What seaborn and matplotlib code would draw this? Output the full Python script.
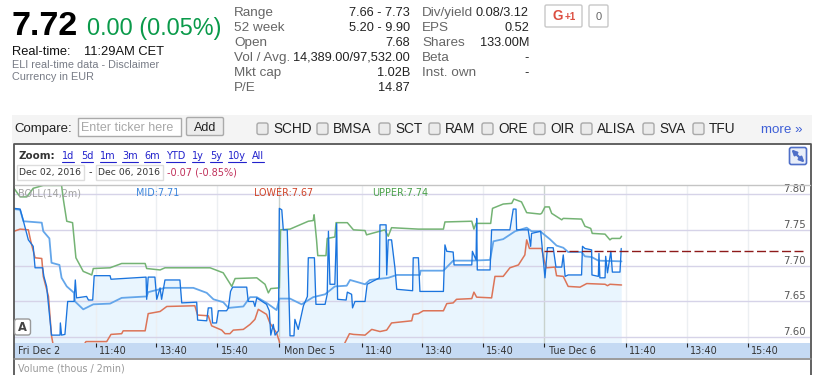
import matplotlib
matplotlib.use("Agg")
import matplotlib.pyplot as plt
import seaborn as sns
from matplotlib.patches import FancyBboxPatch, Rectangle

# Time = trading hours since Friday's open, price in EUR
upper_time = [0, .20, .42, .63, .96, 1.56, 1.62, 1.73, 1.92, 2.03, 2.27, 2.55, 2.60, 3.15, 3.53, 4.30, 4.35, 4.79, 4.95, 5.99, 6.43, 6.86, 7.14, 7.25, 7.96, 8.23, 8.34, 8.42, 8.70, 8.74, 9.05, 9.65, 9.81, 9.84, 9.92, 9.96, 10.23, 10.27, 10.52, 10.56, 10.93, 11.13, 11.51, 11.56, 12.16, 12.27, 12.38, 13.26, 14.08, 14.13, 15.01, 15.08, 15.15, 15.63, 15.69, 16.04, 16.32, 16.39, 16.64, 16.81, 17.25, 17.30, 17.41, 17.55, 17.63, 17.96, 18.01, 18.61, 18.72, 18.91, 18.96, 19.38, 19.54, 19.60, 19.87, 19.92]
upper_price = [7.808, 7.796, 7.796, 7.808, 7.812, 7.812, 7.792, 7.762, 7.760, 7.711, 7.692, 7.687, 7.696, 7.697, 7.703, 7.703, 7.696, 7.694, 7.697, 7.697, 7.697, 7.690, 7.671, 7.682, 7.683, 7.674, 7.662, 7.668, 7.669, 7.750, 7.751, 7.762, 7.763, 7.771, 7.736, 7.714, 7.714, 7.738, 7.740, 7.760, 7.760, 7.750, 7.749, 7.743, 7.750, 7.741, 7.753, 7.751, 7.751, 7.761, 7.762, 7.751, 7.759, 7.759, 7.780, 7.786, 7.787, 7.793, 7.789, 7.774, 7.772, 7.773, 7.782, 7.782, 7.773, 7.764, 7.766, 7.765, 7.755, 7.752, 7.745, 7.744, 7.736, 7.738, 7.738, 7.741]

mid_time = [0, .20, .31, .91, .96, 1.16, 1.23, 1.49, 1.56, 1.73, 1.97, 2.00, 2.27, 2.60, 3.15, 3.53, 4.35, 4.40, 4.95, 5.88, 6.32, 6.54, 6.86, 7.03, 7.52, 7.74, 7.96, 8.28, 8.61, 8.70, 9.05, 9.43, 9.81, 10.20, 10.52, 10.91, 11.02, 11.51, 11.67, 12.27, 12.55, 13.31, 13.33, 14.08, 14.40, 15.01, 15.61, 15.72, 16.04, 16.43, 16.81, 16.97, 17.25, 17.57, 17.79, 18.01, 18.17, 18.61, 18.72, 18.94, 19.16, 19.92]
mid_price = [7.779, 7.778, 7.762, 7.760, 7.748, 7.738, 7.704, 7.701, 7.683, 7.671, 7.662, 7.650, 7.639, 7.646, 7.647, 7.655, 7.657, 7.663, 7.669, 7.669, 7.662, 7.653, 7.649, 7.641, 7.643, 7.656, 7.656, 7.648, 7.638, 7.654, 7.654, 7.646, 7.656, 7.660, 7.671, 7.672, 7.680, 7.674, 7.680, 7.683, 7.687, 7.687, 7.693, 7.693, 7.707, 7.707, 7.708, 7.734, 7.737, 7.748, 7.753, 7.748, 7.748, 7.737, 7.728, 7.725, 7.719, 7.719, 7.713, 7.712, 7.707, 7.706]

lower_time = [0, .20, .47, .55, .69, .91, .96, 1.13, 1.23, 1.29, 2.27, 2.36, 3.04, 3.18, 3.53, 3.58, 4.30, 4.40, 4.79, 5.01, 5.93, 6.02, 6.37, 6.48, 6.81, 6.92, 7.08, 7.19, 7.52, 7.74, 7.90, 8.01, 8.28, 8.39, 8.61, 8.70, 8.72, 10.80, 11.00, 11.13, 11.51, 11.73, 12.00, 12.22, 12.38, 13.04, 13.09, 13.26, 13.42, 14.08, 14.19, 14.40, 14.51, 15.01, 15.08, 15.17, 15.66, 15.77, 16.04, 16.26, 16.54, 16.75, 16.81, 16.90, 17.30, 17.38, 17.46, 17.74, 17.79, 18.01, 18.17, 18.56, 18.78, 19.38, 19.46, 19.54, 19.92]
lower_price = [7.748, 7.751, 7.750, 7.734, 7.711, 7.710, 7.685, 7.657, 7.602, 7.588, 7.588, 7.594, 7.594, 7.604, 7.605, 7.609, 7.609, 7.633, 7.636, 7.643, 7.644, 7.631, 7.630, 7.616, 7.610, 7.605, 7.605, 7.610, 7.611, 7.618, 7.625, 7.639, 7.632, 7.620, 7.606, 7.594, 7.588, 7.588, 7.605, 7.604, 7.603, 7.611, 7.608, 7.610, 7.620, 7.623, 7.632, 7.633, 7.637, 7.637, 7.647, 7.648, 7.653, 7.654, 7.663, 7.656, 7.655, 7.685, 7.685, 7.697, 7.701, 7.715, 7.736, 7.724, 7.724, 7.708, 7.697, 7.698, 7.686, 7.685, 7.671, 7.670, 7.675, 7.674, 7.672, 7.674, 7.673]

price_time = [0, .20, .31, .47, .63, .69, .94, .98, 1.07, 1.23, 1.51, 1.52, 1.56, 1.67, 1.76, 1.97, 2.01, 2.05, 2.38, 2.44, 2.58, 2.63, 3.15, 3.18, 4.33, 4.35, 4.40, 4.62, 4.68, 4.79, 4.84, 4.95, 5.44, 5.50, 5.99, 6.02, 6.32, 6.37, 6.48, 6.51, 6.64, 6.70, 6.97, 7.03, 7.10, 7.17, 7.63, 7.68, 7.85, 7.90, 7.96, 8.28, 8.37, 8.42, 8.50, 8.56, 8.67, 8.70, 8.78, 8.83, 8.96, 9.05, 9.18, 9.21, 9.32, 9.49, 9.62, 9.65, 9.85, 9.90, 10.20, 10.27, 10.31, 10.36, 10.52, 10.58, 10.61, 10.89, 10.93, 11.07, 11.10, 11.18, 11.51, 11.58, 11.98, 12.00, 12.20, 12.22, 12.27, 12.38, 12.49, 12.55, 13.07, 13.09, 13.26, 13.31, 14.08, 14.13, 14.19, 14.40, 14.43, 15.01, 15.03, 15.15, 15.17, 15.19, 15.61, 15.66, 16.26, 16.37, 16.46, 16.48, 16.86, 16.94, 16.97, 17.27, 17.41, 17.49, 17.68, 17.77, 17.79, 17.96, 18.01, 18.07, 18.17, 18.61, 18.64, 18.72, 18.94, 18.95, 19.16, 19.18, 19.21, 19.38, 19.40, 19.46, 19.57, 19.62, 19.87, 19.91]
price_value = [7.780, 7.779, 7.762, 7.736, 7.727, 7.697, 7.697, 7.685, 7.671, 7.603, 7.603, 7.620, 7.603, 7.604, 7.650, 7.650, 7.680, 7.655, 7.657, 7.652, 7.652, 7.686, 7.686, 7.681, 7.684, 7.653, 7.684, 7.684, 7.653, 7.669, 7.653, 7.680, 7.680, 7.648, 7.649, 7.624, 7.623, 7.641, 7.641, 7.620, 7.620, 7.637, 7.637, 7.641, 7.664, 7.670, 7.670, 7.650, 7.650, 7.643, 7.655, 7.646, 7.637, 7.603, 7.618, 7.603, 7.609, 7.780, 7.778, 7.750, 7.750, 7.602, 7.602, 7.625, 7.611, 7.644, 7.657, 7.711, 7.711, 7.646, 7.646, 7.660, 7.748, 7.674, 7.674, 7.759, 7.653, 7.652, 7.663, 7.660, 7.641, 7.650, 7.650, 7.674, 7.683, 7.757, 7.757, 7.687, 7.736, 7.736, 7.697, 7.667, 7.665, 7.711, 7.711, 7.664, 7.664, 7.729, 7.720, 7.719, 7.701, 7.701, 7.720, 7.708, 7.766, 7.694, 7.694, 7.750, 7.750, 7.779, 7.779, 7.750, 7.750, 7.727, 7.745, 7.748, 7.683, 7.725, 7.725, 7.698, 7.698, 7.698, 7.715, 7.685, 7.687, 7.687, 7.727, 7.724, 7.722, 7.687, 7.685, 7.717, 7.683, 7.683, 7.713, 7.690, 7.720, 7.691, 7.691, 7.724]

last_price = 7.72
last_time = [17.39, 25.87]
y_ticks = [7.60, 7.65, 7.70, 7.75, 7.80]
session_times = [0, 8.70, 17.39]
session_labels = ["Fri Dec 2", "Mon Dec 5", "Tue Dec 6"]
clock_times = [2.68, 4.67, 6.67, 11.40, 13.37, 15.37, 20.06, 22.06, 24.06]
clock_labels = ["11:40", "13:40", "15:40"] * 3

stats_left = [("Range", "7.66 - 7.73"), ("52 week", "5.20 - 9.90"), ("Open", "7.68"),
              ("Vol / Avg.", "14,389.00/97,532.00"), ("Mkt cap", "1.02B"), ("P/E", "14.87")]
stats_right = [("Div/yield", "0.08/3.12"), ("EPS", "0.52"), ("Shares", "133.00M"),
               ("Beta", "-"), ("Inst. own", "-")]
compare_names = ["SCHD", "BMSA", "SCT", "RAM", "ORE", "OIR", "ALISA", "SVA", "TFU"]
compare_x = [257, 317, 379, 429, 482, 534, 581, 643, 693]
zoom_names = ["1d", "5d", "1m", "3m", "6m", "YTD", "1y", "5y", "10y", "All"]
zoom_x = [62, 81, 100, 122, 144, 166, 192, 210, 228, 252]

sns.set_style("white")
plt.rcParams["font.family"] = ["Liberation Sans", "DejaVu Sans"]

W, H = 823, 375
fig = plt.figure(figsize=(W / 100, H / 100), dpi=100)

# main price panel
ax = fig.add_axes([14 / W, (H - 343) / H, 796 / W, 158 / H])
ax.set_xlim(0, 26.1)
ax.set_ylim(7.592, 7.8126)

ax.fill_between(price_time, price_value, 7.5, color="#e9f5fe", lw=0, zorder=1)
for y in y_ticks:
    ax.axhline(y, color="#d6d3e8", lw=1, zorder=1.5)
for x in clock_times:
    ax.axvline(x, color="#eceff2", lw=1, zorder=1.2)
for x in session_times[1:]:
    ax.axvline(x, color="#c9d2cd", lw=1, zorder=1.2)

sns.lineplot(x=upper_time, y=upper_price, estimator=None, sort=False, color="#74b374", lw=1.1, ax=ax, zorder=3)
sns.lineplot(x=lower_time, y=lower_price, estimator=None, sort=False, color="#dc7458", lw=1.1, ax=ax, zorder=3)
sns.lineplot(x=mid_time, y=mid_price, estimator=None, sort=False, color="#64a6ea", lw=1.3, ax=ax, zorder=3)
sns.lineplot(x=price_time, y=price_value, estimator=None, sort=False, color="#1a74de", lw=0.95, ax=ax, zorder=4)
sns.lineplot(x=last_time, y=[last_price, last_price], estimator=None, color="#8e1a1a", lw=1,
             ax=ax, zorder=4, linestyle=(0, (6.5, 2.5)))

ax.set_yticks(y_ticks)
ax.set_yticklabels([f"{v:.2f}" for v in y_ticks], family="DejaVu Sans", fontsize=7.3,
                   color="#555555", va="bottom")
ax.yaxis.tick_right()
ax.tick_params(axis="y", length=0, pad=-19)
ax.tick_params(axis="x", length=0, labelbottom=False, bottom=False)
ax.set_xlabel("")
ax.set_ylabel("")
sns.despine(ax=ax, left=True, right=True, bottom=True, top=True)

# date band under the chart, shares the time scale
band = fig.add_axes([14 / W, (H - 358) / H, 796 / W, 15 / H], sharex=ax)
band.set_facecolor("#c5daf3")
band.set_yticks([])
band.set_xticks(clock_times + session_times[1:])
band.tick_params(axis="x", labelbottom=False, direction="in", top=True, bottom=False,
                 length=3, width=0.8, color="#222222")
ax.tick_params(axis="x", length=0, labelbottom=False, bottom=False)
sns.despine(ax=band, left=True, right=True, bottom=True, top=True)
for x, s in zip(clock_times, clock_labels):
    band.annotate(s, (x, 0.5), xycoords=("data", "axes fraction"), xytext=(2.5, 0), textcoords="offset points",
                  family="DejaVu Sans", fontsize=6.9, color="#333333", va="center")
for x, s, off in zip(session_times, session_labels, (3, 3.6, 3.6)):
    band.annotate(s, (x, 0.5), xycoords=("data", "axes fraction"), xytext=(off, 0), textcoords="offset points",
                  family="DejaVu Sans", fontsize=6.9, color="#333333", va="center")

# everything around the chart sits on an overlay in pixel units
page = fig.add_axes([0, 0, 1, 1], zorder=5)
page.set_xlim(0, W)
page.set_ylim(H, 0)
page.axis("off")


def box(x0, y0, x1, y1, fc="white", ec="#c8c8c8", lw=1, r=0, zorder=2):
    if r:
        p = FancyBboxPatch((x0 + r, y0 + r), x1 - x0 - 2 * r, y1 - y0 - 2 * r,
                           boxstyle=f"round,pad={r},rounding_size={r}", fc=fc, ec=ec, lw=lw, zorder=zorder)
    else:
        p = Rectangle((x0, y0), x1 - x0, y1 - y0, fc=fc, ec=ec, lw=lw, zorder=zorder)
    page.add_patch(p)


# quote header
page.text(12, 35, "7.72", fontsize=24.5, fontweight="bold", color="black", va="baseline")
page.text(87, 35, "0.00 (0.05%)", fontsize=16.8, color="#0a9a4a", va="baseline")
page.text(12, 55, "Real-time:", fontsize=9.3, color="#111111", va="baseline")
page.text(84, 55, "11:29AM CET", fontsize=9.3, color="#111111", va="baseline")
page.text(12, 68, "ELI real-time data - Disclaimer", fontsize=7.8, color="#777b85", va="baseline")
page.text(12, 80, "Currency in EUR", fontsize=7.8, color="#777b85", va="baseline")

for i, (k, v) in enumerate(stats_left):
    page.text(234, 16 + i * 15, k, fontsize=9.7, color="#666666", va="baseline")
    page.text(410, 16 + i * 15, v, fontsize=9.2, color="#222222", va="baseline", ha="right")
for i, (k, v) in enumerate(stats_right):
    page.text(422, 16 + i * 15, k, fontsize=9.7, color="#666666", va="baseline")
    page.text(529, 16 + i * 15, v, fontsize=9.2, color="#222222", va="baseline", ha="right")

# G+1 button
box(545, 5, 582, 27, r=1.5)
page.text(553, 20.5, "G", fontsize=9.8, fontweight="bold", color="#dc4e41", va="baseline")
page.text(565, 20, "+1", fontsize=7.2, fontweight="bold", color="#dc4e41", va="baseline")
box(589, 5, 608, 27, r=1.5)
page.text(598.5, 20, "0", fontsize=8, color="#666666", va="baseline", ha="center")

# compare row
box(12, 115, 812, 143, fc="#f4f4f4", ec="none", zorder=1)
page.text(14, 132, "Compare:", fontsize=9.5, color="#222222", va="baseline")
box(78.5, 117.5, 181.5, 135.5, ec="#aaaaaa")
page.text(81, 131, "Enter ticker here", fontsize=9, color="#a8a8a8", va="baseline")
box(186.5, 117.5, 223.5, 135.5, fc="#ececec", ec="#aaaaaa", r=1.5)
page.text(205, 131, "Add", fontsize=9, color="#222222", va="baseline", ha="center")
for x, s in zip(compare_x, compare_names):
    box(x, 123, x + 11, 134.5, fc="#ebebeb", ec="#a9a9a9", r=2)
    page.text(x + 16, 133, s, fontsize=9.8, color="#222222", va="baseline")
page.text(761, 133, "more »", fontsize=9.6, color="#3e5fd6", va="baseline")

# chart frame and toolbar
page.plot([14, 14, 811, 811], [H, 143.5, 143.5, H], color="#555555", lw=1.3, zorder=4)
page.plot([14, 811], [358.5, 358.5], color="#8a8a8a", lw=1.2, zorder=4)
page.plot([15, 810], [184.5, 184.5], color="#c4c4c4", lw=1, zorder=4)
page.text(19, 159, "Zoom:", family="DejaVu Sans", fontsize=7.4, fontweight="bold", color="#333333", va="baseline")
renderer = fig.canvas.get_renderer()
for x, s in zip(zoom_x, zoom_names):
    t = page.text(x, 159, s, family="DejaVu Sans", fontsize=7, color="#2222cc", va="baseline")
    wid = t.get_window_extent(renderer).width
    page.plot([x, x + wid], [161.5, 161.5], color="#2222cc", lw=0.8)
box(17.5, 164.5, 84, 179.5, ec="#dddddd")
box(96, 164.5, 163, 179.5, ec="#dddddd")
page.text(19.5, 175.5, "Dec 02, 2016", family="DejaVu Sans", fontsize=6.7, color="#333333", va="baseline")
page.text(89, 175.5, "-", family="DejaVu Sans", fontsize=7, color="#333333", va="baseline")
page.text(98.5, 175.5, "Dec 06, 2016", family="DejaVu Sans", fontsize=6.7, color="#333333", va="baseline")
page.text(167, 175.5, "-0.07 (-0.85%)", family="DejaVu Sans", fontsize=7, color="#c0305a", va="baseline")

# expand icon
box(789.5, 147.5, 806.5, 164.5, fc="#e9eef9", ec="#4f6fc8", lw=1.2, r=2)
page.annotate("", xy=(804.5, 162.5), xytext=(791.5, 149.5),
              arrowprops=dict(arrowstyle="<|-|>", color="#4f6fc8", lw=1.6, mutation_scale=7, shrinkA=0, shrinkB=0))

# indicator legend inside plot
page.text(18, 193, "BOLL(14,2m)", family="DejaVu Sans", fontsize=6.9, color="#a0a0a0", va="center")
page.text(136, 193, "MID:7.71", family="DejaVu Sans", fontsize=6.9, color="#3c86dc", va="center")
page.text(254, 193, "LOWER:7.67", family="DejaVu Sans", fontsize=6.9, color="#d0452a", va="center")
page.text(372, 193, "UPPER:7.74", family="DejaVu Sans", fontsize=6.9, color="#4aa04a", va="center")

box(14.5, 319, 30.5, 335, ec="#999999", r=2.5, zorder=6)
page.text(22.8, 327.5, "A", family="DejaVu Sans", fontsize=8.3, fontweight="bold", color="#444444",
          ha="center", va="center", zorder=7)

page.text(18, 371.5, "Volume (thous / 2min)", family="DejaVu Sans", fontsize=6.9, color="#999999", va="baseline")

fig.savefig("out.png", dpi=100)
